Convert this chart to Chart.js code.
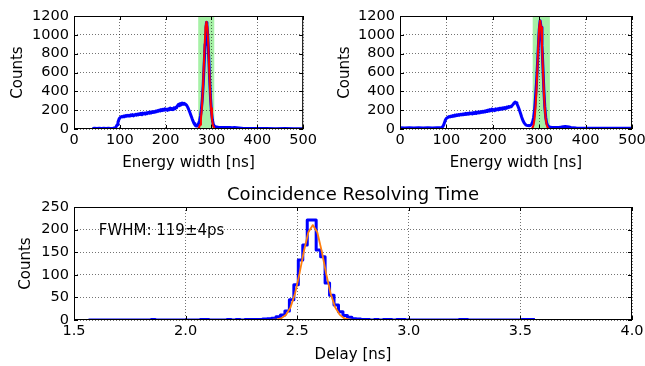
<!DOCTYPE html>
<html>
<head>
<meta charset="utf-8">
<script src="https://cdn.jsdelivr.net/npm/chart.js@4"></script>
<style>
html,body{margin:0;padding:0;background:#fff;overflow:hidden;width:645px;height:366px}
canvas{position:absolute}
</style>
</head>
<body>
<canvas id="cLeft" width="320" height="175" style="left:0;top:0"></canvas>
<canvas id="cRight" width="340" height="175" style="left:320px;top:0"></canvas>
<canvas id="cDelay" width="670" height="191" style="left:0;top:175px"></canvas>
<script>
// ---- data ----
// top left: energy width spectrum, detector 1
const leftX = [40,45,50,55,60,65,70,75,80,85,88,90,92,94,96,98,100,102,104,106,108,110,112,114,116,118,120,122,124,126,128,130,132,134,136,138,140,142,144,146,148,150,152,154,156,158,160,162,164,166,168,170,172,174,176,178,180,182,184,186,188,190,192,194,196,198,200,202,204,206,208,210,212,214,216,218,220,222,224,226,228,230,232,234,236,238,240,242,244,246,248,250,252,254,256,258,260,262,264,266,268,270,272,274,276,278,280,282,284,286,288,289,290,292,294,296,298,300,302,304,306,308,310,315,320,325,330,335,340,345,350,355,360,365,370,380,400,420,440,460,480,500];
const leftCounts = [6,7,5,8,6,7,5,7,6,8,10,14,24,45,75,102,118,126,132,128,138,131,142,135,145,137,147,139,150,142,153,140,148,156,147,158,150,162,154,165,152,168,160,170,158,172,164,176,168,180,170,182,175,186,178,190,183,195,188,200,191,205,196,210,200,214,203,210,198,215,205,222,208,218,206,225,214,230,226,248,262,247,270,256,276,264,273,266,262,250,232,210,185,160,132,105,80,58,42,33,32,40,60,92,140,210,320,480,690,900,1080,1130,1110,980,760,520,320,180,95,50,32,24,20,18,17,16,17,15,16,14,15,14,12,9,6,5,4,4,3,4,3,3];
const leftFitX = [40,265,271,273,275,277,279,281,283,285,287,289,291,293,295,297,299,301,303,305,307,313,500];
const leftFit = [0,0,3,17,45,107,221,400,637,886,1080,1140,1080,886,637,400,221,107,45,17,3,0,0];
const leftBand = [271, 306];

// top right: energy width spectrum, detector 2
const rightX = [0,10,20,30,40,50,60,70,80,86,90,92,94,96,98,100,102,104,106,108,110,112,114,116,118,120,122,124,126,128,130,132,134,136,138,140,142,144,146,148,150,152,154,156,158,160,162,164,166,168,170,172,174,176,178,180,182,184,186,188,190,192,194,196,198,200,202,204,206,208,210,212,214,216,218,220,222,224,226,228,230,232,234,236,238,240,242,244,246,248,250,252,254,256,258,260,262,264,266,268,270,272,274,276,278,280,282,284,286,288,290,292,294,296,298,300,302,304,306,308,310,312,314,316,318,320,322,324,328,332,336,340,344,348,352,356,360,364,368,372,380,400,420,440,460,480,500];
const rightCounts = [12,11,12,11,12,11,12,11,12,12,16,24,42,70,98,112,120,126,133,128,138,132,143,136,147,140,151,144,153,146,157,150,159,151,161,154,165,156,167,158,171,162,169,160,173,165,176,166,179,170,181,172,185,176,187,178,191,182,196,186,201,190,205,194,211,198,207,196,213,202,215,204,219,208,221,210,225,214,227,218,233,225,239,231,241,237,251,263,276,286,279,266,246,221,192,162,130,102,79,62,50,42,38,36,35,36,42,55,80,125,200,330,480,660,860,1050,1150,1080,890,660,420,240,125,65,40,28,22,18,16,15,16,16,18,21,25,27,25,21,16,12,10,9,9,8,8,8,8];
const rightFitX = [0,280,284,286,288,290,292,294,296,298,300,302,304,306,308,310,312,314,316,318,320,326,500];
const rightFit = [0,0,3,17,45,107,221,400,637,886,1080,1150,1080,886,637,400,221,107,45,17,3,0,0];
const rightBand = [286, 323];

// bottom: coincidence delay histogram (bins of 0.02 ns from 1.565 ns)
const delayBinStart = 1.565;
const delayBinWidth = 0.02;
const delayCounts = [0,0,0,0,0,0,0,0,0,0,0,0,0,0,1,0,0,0,0,0,0,0,0,0,0,1,1,0,0,0,0,1,0,1,0,1,1,1,1,
  2,3,4,7,11,20,45,78,133,166,221,221,155,140,82,55,33,18,10,6,3,2,
  1,1,0,1,0,1,1,0,1,1,0,0,0,0,0,0,0,0,0,0,0,0,1,1,0,0,0,0,0,0,0,0,0,0,0,0,1,1,1];
const delayFitX = [1.565,2.35,2.39,2.41,2.43,2.45,2.47,2.49,2.51,2.53,2.55,2.57,2.59,2.61,2.63,2.65,2.67,2.69,2.71,2.73,2.75,2.79,3.565];
const delayFit = [0,0,0.7,1.3,4.2,11.8,28,58,102,152,194,210,194,152,102,58,28,12,4,1.3,0.3,0,0];
const fwhmText = 'FWHM: 119\u00b14ps';

const energyTicks = [0,100,200,300,400,500];
const countTicks = [0,200,400,600,800,1000,1200];
const delayTicks = [1.5,2.0,2.5,3.0,3.5,4.0];
const delayCountTicks = [0,50,100,150,200,250];

// ---- drawing ----
const FONT = 'DejaVu Sans';
const pts = (xs, ys) => xs.map((x, i) => ({x, y: ys[i]}));

// green fit window, frame with inward ticks, title and note
const frame = {
  id: 'frame',
  beforeDraw(chart, args, opts) {
    if (!opts.band) return;
    const {ctx, chartArea: a, scales: {x}} = chart;
    const x0 = x.getPixelForValue(opts.band[0]), x1 = x.getPixelForValue(opts.band[1]);
    ctx.save();
    ctx.fillStyle = 'rgba(144,238,144,0.8)';
    ctx.fillRect(x0, a.top, x1 - x0, a.bottom - a.top);
    ctx.restore();
  },
  afterDatasetsDraw(chart, args, opts) {
    const {ctx, chartArea: a, scales: {x, y}} = chart;
    ctx.save();
    ctx.strokeStyle = '#000';
    ctx.lineWidth = 1;
    ctx.beginPath();
    x.ticks.forEach(t => {
      const p = Math.round(x.getPixelForValue(t.value)) + 0.5;
      ctx.moveTo(p, a.bottom); ctx.lineTo(p, a.bottom - 4);
      ctx.moveTo(p, a.top); ctx.lineTo(p, a.top + 4);
    });
    y.ticks.forEach(t => {
      const p = Math.round(y.getPixelForValue(t.value)) + 0.5;
      ctx.moveTo(a.left, p); ctx.lineTo(a.left + 4, p);
      ctx.moveTo(a.right, p); ctx.lineTo(a.right - 4, p);
    });
    ctx.stroke();
    ctx.strokeRect(a.left + 0.5, a.top + 0.5, a.right - a.left - 1, a.bottom - a.top - 1);
    ctx.fillStyle = '#000';
    ctx.textBaseline = 'middle';
    if (opts.title) {
      ctx.font = '18px "' + FONT + '"';
      ctx.textAlign = 'center';
      ctx.fillText(opts.title, (a.left + a.right) / 2, opts.titleY);
    }
    if (opts.note) {
      ctx.font = '15px "' + FONT + '"';
      ctx.textAlign = 'left';
      ctx.fillText(opts.note, x.getPixelForValue(opts.notePos[0]), y.getPixelForValue(opts.notePos[1]));
    }
    ctx.restore();
  }
};

function axis(min, max, ticks, label, size, pad, fmt) {
  return {
    type: 'linear', min, max,
    afterBuildTicks: s => { s.ticks = ticks.map(v => ({value: v})); },
    afterFit: s => { if (s.isHorizontal()) s.height = size; else s.width = size; },
    grid: {color: 'rgba(0,0,0,0.55)', lineWidth: 1, drawTicks: false},
    border: {display: false, dash: [1, 2]},
    ticks: {color: '#000', font: {family: FONT, size: 14.5}, padding: pad.ticks,
      maxRotation: 0, autoSkip: false, callback: fmt || (v => v)},
    title: {display: true, text: label, color: '#000', font: {family: FONT, size: 15},
      padding: {top: pad.title, bottom: pad.title}}
  };
}

function makeChart(id, cfg) {
  return new Chart(document.getElementById(id), {
    type: 'line',
    data: {datasets: cfg.datasets},
    options: {
      responsive: false, animation: false, devicePixelRatio: 1,
      layout: {padding: cfg.padding},
      elements: {point: {radius: 0}, line: {tension: 0, borderJoinStyle: 'round'}},
      plugins: {legend: {display: false}, tooltip: {enabled: false}, frame: cfg.frame},
      scales: {x: cfg.x, y: cfg.y}
    },
    plugins: [frame]
  });
}

// fit curves get order 0 so they are painted over the data
function energyChart(id, xs, counts, fitX, fit, band, yWidth, yTitlePad, padRight) {
  makeChart(id, {
    datasets: [
      {data: pts(xs, counts), borderColor: '#0000ff', borderWidth: 3, order: 1},
      {data: pts(fitX, fit), borderColor: '#ff0000', borderWidth: 2, order: 0}
    ],
    padding: {left: 0, top: 16, right: padRight, bottom: 0},
    frame: {band},
    x: axis(0, 500, energyTicks, 'Energy width [ns]', 46, {ticks: 3, title: 3}),
    y: axis(0, 1200, countTicks, 'Counts', yWidth, {ticks: 5, title: yTitlePad})
  });
}

energyChart('cLeft', leftX, leftCounts, leftFitX, leftFit, leftBand, 74, 9, 15);
energyChart('cRight', rightX, rightCounts, rightFitX, rightFit, rightBand, 80, 16, 28);

const delayEdges = delayCounts.map((c, i) => delayBinStart + i * delayBinWidth);
const delayStep = pts(delayEdges, delayCounts);
delayStep.push({x: delayBinStart + delayCounts.length * delayBinWidth, y: delayCounts[delayCounts.length - 1]});

makeChart('cDelay', {
  datasets: [
    {data: delayStep, borderColor: '#0000ff', borderWidth: 3, stepped: 'before', order: 1},
    {data: pts(delayFitX, delayFit), borderColor: '#ff7f0e', borderWidth: 1.8, order: 0}
  ],
  padding: {left: 0, top: 32, right: 38, bottom: 0},
  frame: {title: 'Coincidence Resolving Time', titleY: 20.5, note: fwhmText, notePos: [1.611, 197]},
  x: axis(1.5, 4.0, delayTicks, 'Delay [ns]', 46, {ticks: 3, title: 2}, v => v.toFixed(1)),
  y: axis(0, 250, delayCountTicks, 'Counts', 74, {ticks: 5, title: 17.5})
});
</script>
</body>
</html>
